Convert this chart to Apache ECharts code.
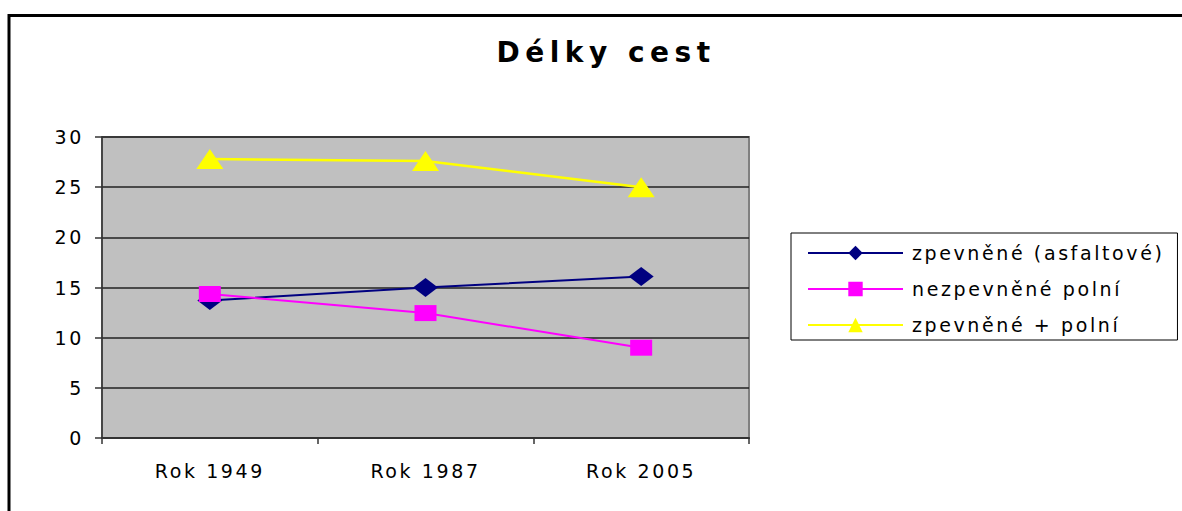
<!DOCTYPE html>
<html>
<head>
<meta charset="utf-8">
<script src="https://cdn.jsdelivr.net/npm/echarts@6/dist/echarts.min.js"></script>
<style>
html,body{margin:0;padding:0;background:#fff;}
#main{width:1182px;height:511px;}
/* the original is stretched wide, svg text takes css letter-spacing */
#main text{letter-spacing:2.6px;}
#main text[style*="bold"]{letter-spacing:5.5px;}
</style>
</head>
<body>
<div id="main"></div>
<script>
// data
var years = ['Rok 1949', 'Rok 1987', 'Rok 2005'];
var asfalt = [13.7, 15.0, 16.1];      // zpevněné (asfaltové)
var polni = [14.35, 12.45, 9.0];      // nezpevněné polní
var soucet = [27.8, 27.6, 25.0];      // zpevněné + polní
var yTicks = [0, 5, 10, 15, 20, 25, 30];

var myChart = echarts.init(document.getElementById('main'), null, {renderer: 'svg'});
var font = '"DejaVu Sans", sans-serif';

var option = {
    animation: false,
    backgroundColor: '#fff',
    title: {
        text: 'Délky cest',
        left: 601,
        textAlign: 'center',
        top: 33,
        textStyle: {fontFamily: font, fontWeight: 'bold', fontSize: 28, color: '#000'}
    },
    graphic: [
        {
            type: 'rect',
            shape: {x: 9, y: 15.5, width: 1300, height: 600},
            style: {fill: 'none', stroke: '#000', lineWidth: 3},
            silent: true
        }
    ],
    legend: {
        orient: 'vertical',
        left: 791,
        top: 233,
        padding: [10, 65, 5, 16],
        borderColor: '#000',
        borderWidth: 1,
        backgroundColor: '#fff',
        itemWidth: 95,
        itemHeight: 18,
        itemGap: 16,
        textStyle: {fontFamily: font, fontSize: 19, color: '#000', lineHeight: 20, padding: [0, 0, 0, 4]},
        data: ['zpevněné (asfaltové)', 'nezpevněné polní', 'zpevněné + polní']
    },
    grid: {
        left: 102,
        top: 137,
        right: 433,
        bottom: 73,
        show: true,
        backgroundColor: '#C0C0C0',
        borderColor: '#808080',
        borderWidth: 2
    },
    xAxis: {
        type: 'category',
        data: years,
        boundaryGap: true,
        axisLine: {lineStyle: {color: '#333', width: 2}},
        axisTick: {show: true, length: 6, lineStyle: {color: '#333', width: 1.5}},
        axisLabel: {fontFamily: font, fontSize: 19, color: '#000', margin: 23}
    },
    yAxis: {
        type: 'value',
        min: 0,
        max: yTicks[yTicks.length - 1],
        interval: 5,
        axisLine: {show: true, lineStyle: {color: '#333', width: 1.5}},
        axisTick: {show: true, length: 7, lineStyle: {color: '#333', width: 1.5}},
        axisLabel: {fontFamily: font, fontSize: 19, color: '#000', margin: 18},
        splitLine: {lineStyle: {color: '#222', width: 1.5}}
    },
    series: [
        {
            name: 'zpevněné (asfaltové)',
            type: 'line',
            data: asfalt,
            symbol: 'diamond',
            symbolSize: [25, 19],
            lineStyle: {color: '#000080', width: 2},
            itemStyle: {color: '#000080'}
        },
        {
            name: 'nezpevněné polní',
            type: 'line',
            data: polni,
            symbol: 'rect',
            symbolSize: [22, 16],
            lineStyle: {color: '#FF00FF', width: 2},
            itemStyle: {color: '#FF00FF'}
        },
        {
            name: 'zpevněné + polní',
            type: 'line',
            data: soucet,
            symbol: 'triangle',
            symbolSize: [27, 20],
            lineStyle: {color: '#FFFF00', width: 2.5},
            itemStyle: {color: '#FFFF00'}
        }
    ]
};
myChart.setOption(option);
</script>
</body>
</html>
